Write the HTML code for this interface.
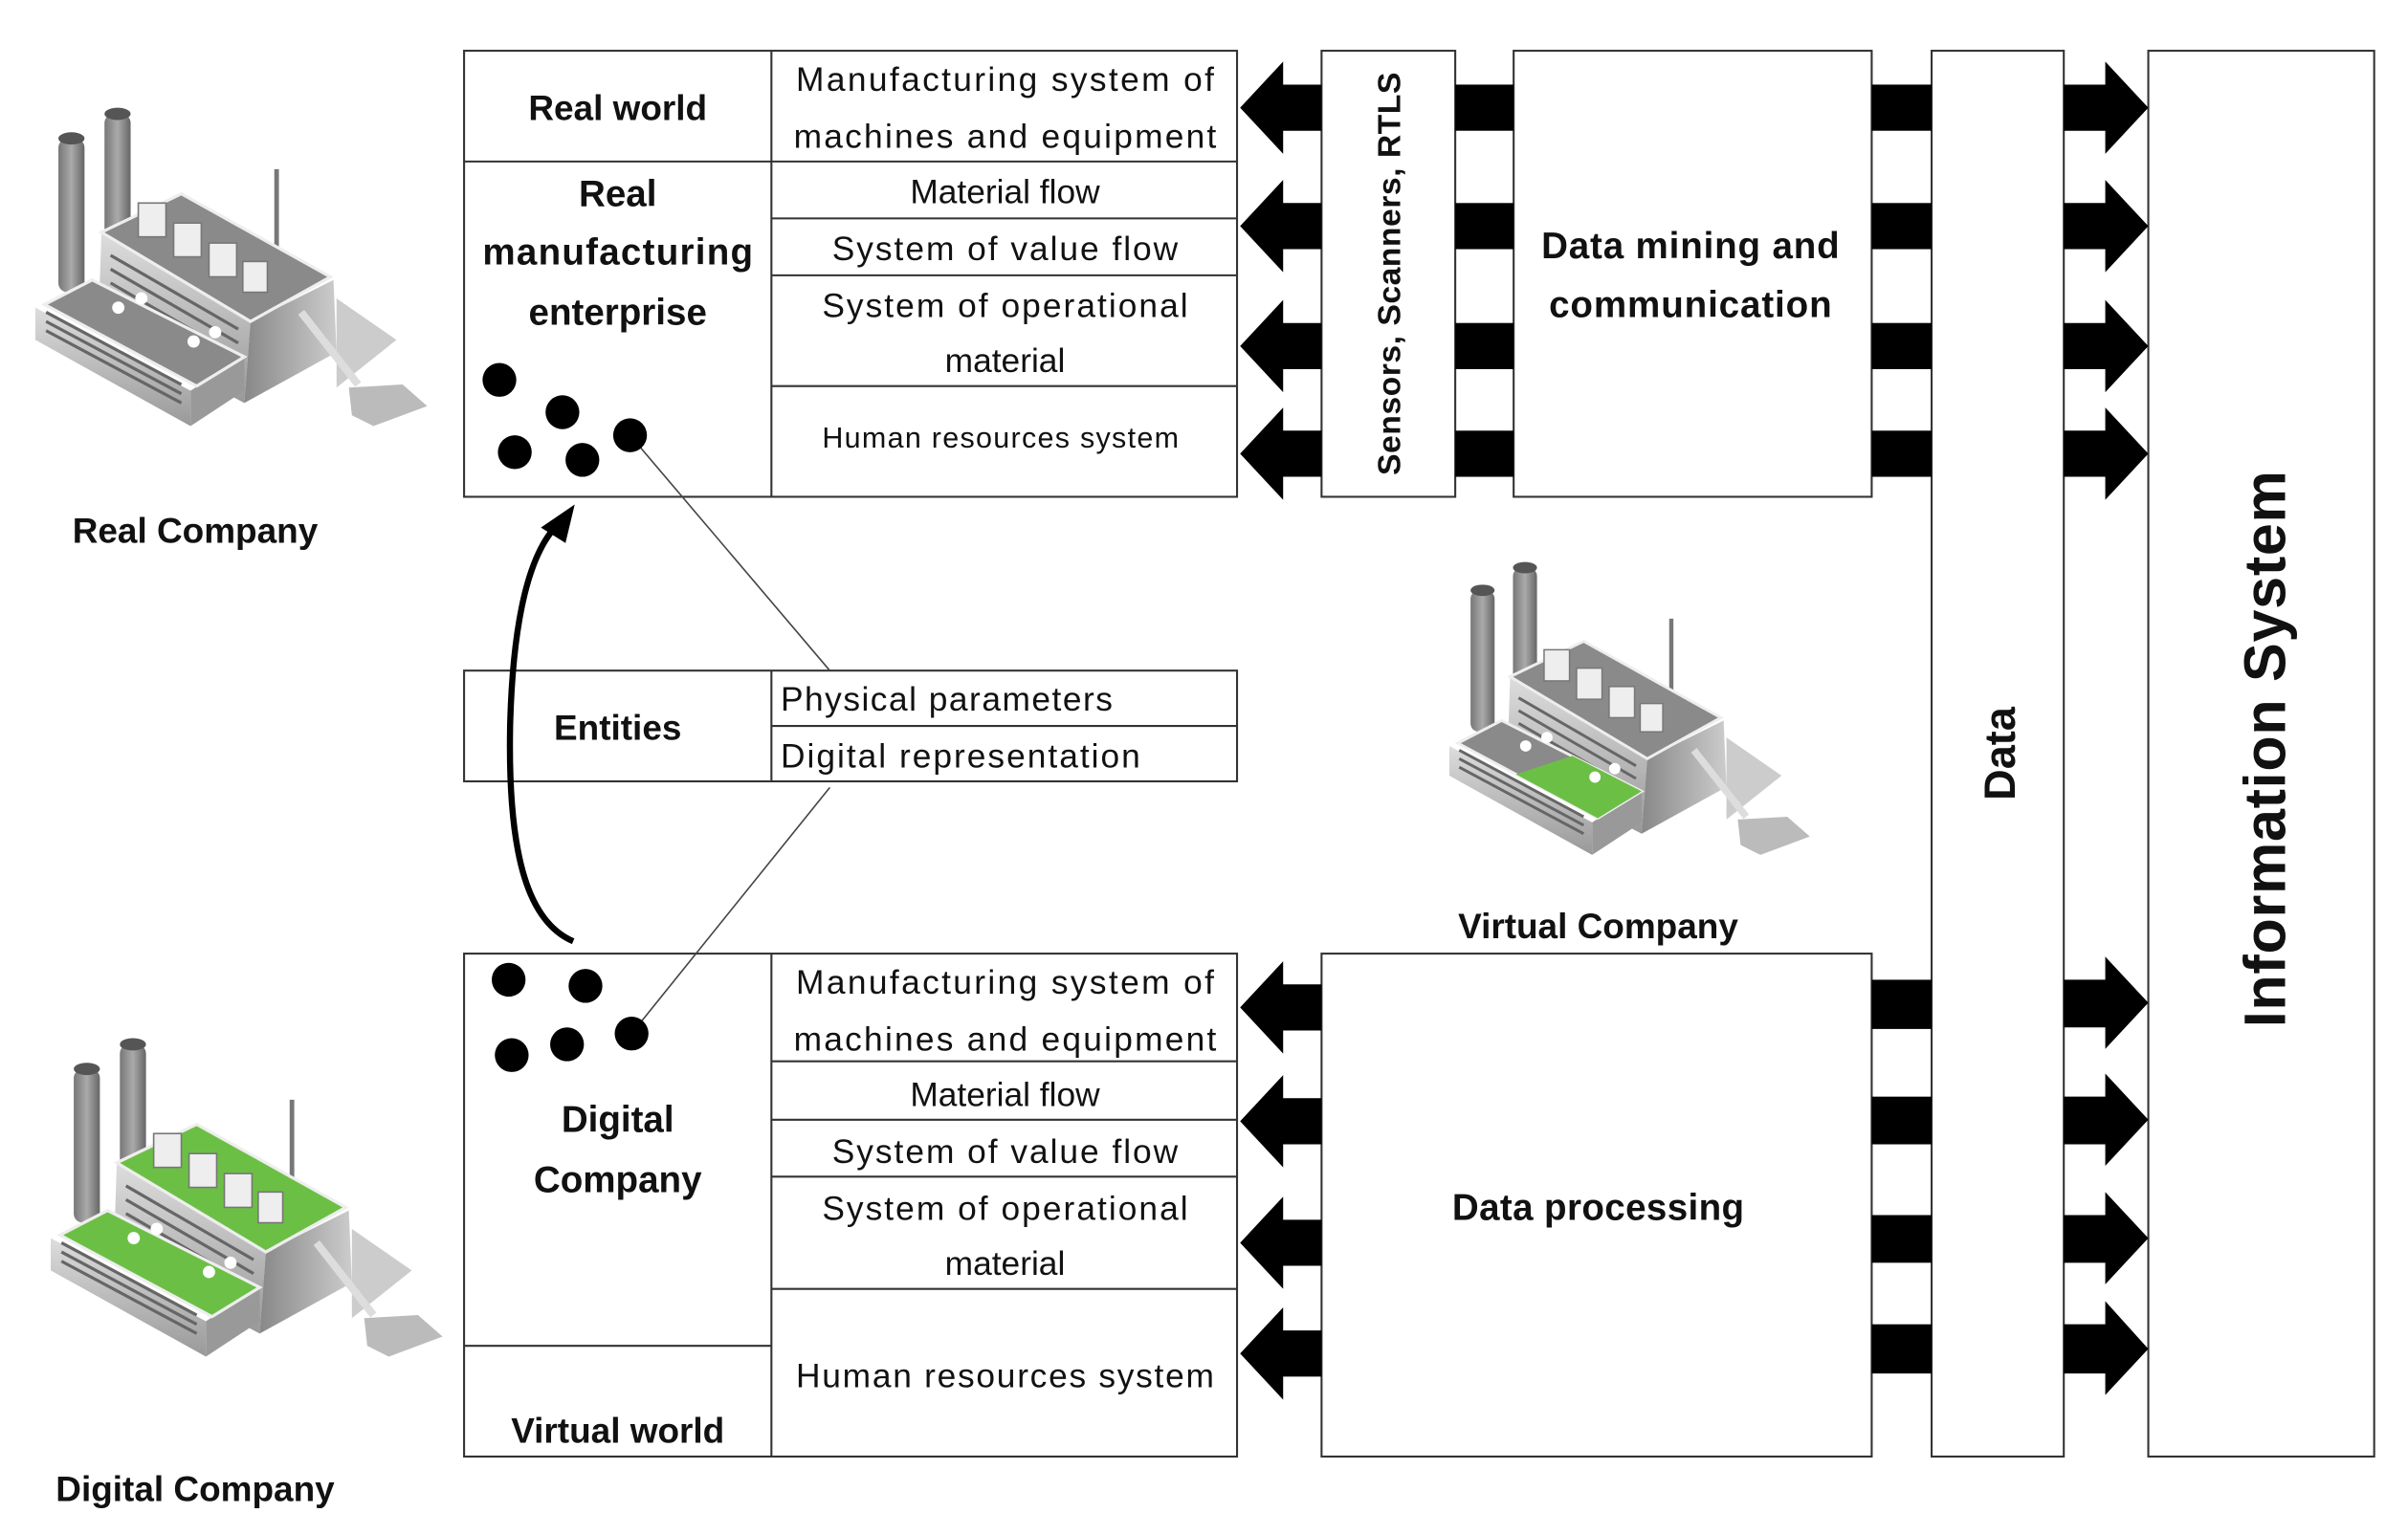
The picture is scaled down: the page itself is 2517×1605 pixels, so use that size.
<!DOCTYPE html>
<html><head><meta charset="utf-8"><style>
html,body{margin:0;padding:0;background:#fff;}
svg{display:block;}
text{font-family:"Liberation Sans",sans-serif;fill:#111;}
.b{font-weight:bold;}
</style></head><body>
<svg width="2517" height="1605" viewBox="0 0 1567 998" preserveAspectRatio="none" xmlns="http://www.w3.org/2000/svg">
<defs>
<linearGradient id="ch" x1="0" x2="1"><stop offset="0" stop-color="#777"/><stop offset="0.5" stop-color="#aaa"/><stop offset="1" stop-color="#666"/></linearGradient>
<linearGradient id="wall" x1="0" x2="0" y1="0" y2="1"><stop offset="0" stop-color="#ddd"/><stop offset="1" stop-color="#999"/></linearGradient>
<linearGradient id="rw" x1="0" x2="1"><stop offset="0" stop-color="#888"/><stop offset="1" stop-color="#ccc"/></linearGradient>
<g id="facbase">
 <polygon points="219,194 258,221 219,252" fill="#ccc"/>
 <rect x="38" y="90" width="17" height="100" rx="6" fill="url(#ch)"/>
 <ellipse cx="46.5" cy="90" rx="8.5" ry="4" fill="#555"/>
 <rect x="68" y="74" width="17" height="100" rx="6" fill="url(#ch)"/>
 <ellipse cx="76.5" cy="74" rx="8.5" ry="4" fill="#555"/>
 <polygon points="66,151 163,209 159,262 64,212" fill="url(#wall)"/>
 <polygon points="163,209 217,182 219,229 159,262" fill="url(#rw)"/>
 <line x1="180" y1="110" x2="180" y2="182" stroke="#777" stroke-width="3"/>
 <polygon points="23,200 124,254 124,277 23,221" fill="url(#wall)"/>
 <polygon points="124,254 159,232 159,254 124,277" fill="#999"/>
 <line x1="196" y1="203" x2="233" y2="250" stroke="#ddd" stroke-width="5"/>
 <polygon points="227,252 262,250 278,264 243,277 229,270" fill="#bbb"/>
 <g stroke="#666" stroke-width="2">
  <line x1="30" y1="209" x2="118" y2="256"/><line x1="30" y1="215" x2="118" y2="262"/><line x1="30" y1="203" x2="118" y2="250"/>
  <line x1="72" y1="166" x2="155" y2="214"/><line x1="72" y1="175" x2="155" y2="223"/><line x1="72" y1="184" x2="155" y2="232"/>
 </g>
</g>
<g id="roofs">
 <g fill="#eee" stroke="#777" stroke-width="1">
  <rect x="90" y="132" width="18" height="22"/><rect x="113" y="145" width="18" height="22"/><rect x="136" y="158" width="18" height="22"/><rect x="158" y="170" width="16" height="20"/>
 </g>
 <g fill="#fff"><circle cx="77" cy="200" r="4"/><circle cx="92" cy="194" r="4"/><circle cx="126" cy="222" r="4"/><circle cx="140" cy="216" r="4"/></g>
</g>
</defs>

<g>
 <use href="#facbase"/>
 <polygon points="66,151 118,126 215,180 163,209" fill="#8a8a8a" stroke="#eee" stroke-width="2"/>
 <polygon points="29,198 60,182 159,232 128,251" fill="#8a8a8a" stroke="#eee" stroke-width="2"/>
 <use href="#roofs"/>
</g>
<g transform="translate(10,605)">
 <use href="#facbase"/>
 <polygon points="66,151 118,126 215,180 163,209" fill="#6cbf45" stroke="#eee" stroke-width="2"/>
 <polygon points="29,198 60,182 159,232 128,251" fill="#6cbf45" stroke="#eee" stroke-width="2"/>
 <use href="#roofs"/>
</g>
<g transform="translate(922,301) scale(0.92)">
 <use href="#facbase"/>
 <polygon points="66,151 118,126 215,180 163,209" fill="#8a8a8a" stroke="#eee" stroke-width="2"/>
 <polygon points="29,198 60,182 159,232 128,251" fill="#8a8a8a" stroke="#eee" stroke-width="2"/>
 <polygon points="70,220 128,251 159,232 110,207" fill="#6cbf45"/>
 <use href="#roofs"/>
</g>

<text x="127" y="353" font-size="23" class="b" text-anchor="middle">Real Company</text>
<text x="127" y="976" font-size="23" class="b" text-anchor="middle">Digital Company</text>
<text x="1040" y="610" font-size="23" class="b" text-anchor="middle">Virtual Company</text>

<g fill="none" stroke="#333" stroke-width="1.3">
 <rect x="302" y="33" width="503" height="290"/>
 <line x1="502" y1="33" x2="502" y2="323"/>
 <line x1="302" y1="105" x2="805" y2="105"/>
 <line x1="502" y1="142" x2="805" y2="142"/>
 <line x1="502" y1="179" x2="805" y2="179"/>
 <line x1="502" y1="251" x2="805" y2="251"/>
 <rect x="302" y="436" width="503" height="72"/>
 <line x1="502" y1="436" x2="502" y2="508"/>
 <line x1="502" y1="472" x2="805" y2="472"/>
 <rect x="302" y="620" width="503" height="327"/>
 <line x1="502" y1="620" x2="502" y2="947"/>
 <line x1="302" y1="875" x2="502" y2="875"/>
 <line x1="502" y1="690" x2="805" y2="690"/>
 <line x1="502" y1="728" x2="805" y2="728"/>
 <line x1="502" y1="765" x2="805" y2="765"/>
 <line x1="502" y1="838" x2="805" y2="838"/>
 <rect x="860" y="33" width="87" height="290"/>
 <rect x="985" y="33" width="233" height="290"/>
 <rect x="1257" y="33" width="86" height="914"/>
 <rect x="1398" y="33" width="147" height="914"/>
 <rect x="860" y="620" width="358" height="327"/>
</g>

<line x1="410" y1="283" x2="540" y2="436" stroke="#444" stroke-width="1"/>
<line x1="411" y1="672" x2="540" y2="512" stroke="#444" stroke-width="1"/>
<g fill="#000">
 <circle cx="325" cy="247" r="11"/><circle cx="366" cy="268" r="11"/><circle cx="335" cy="294" r="11"/><circle cx="379" cy="299" r="11"/><circle cx="410" cy="283" r="11"/>
 <circle cx="331" cy="637" r="11"/><circle cx="381" cy="641" r="11"/><circle cx="333" cy="686" r="11"/><circle cx="369" cy="679" r="11"/><circle cx="411" cy="672" r="11"/>
</g>
<path d="M373,612 C345,600 330,560 332,470 C334,400 345,360 362,342" fill="none" stroke="#000" stroke-width="4"/>
<polygon points="374,328 352,343 368,353" fill="#000"/>

<g fill="#000">
 <polygon points="807,70 835,40 835,55 860,55 860,85 835,85 835,100"/>
 <polygon points="807,147 835,117 835,132 860,132 860,162 835,162 835,177"/>
 <polygon points="807,225 835,195 835,210 860,210 860,240 835,240 835,255"/>
 <polygon points="807,295 835,265 835,280 860,280 860,310 835,310 835,325"/>
 <rect x="947" y="55" width="38" height="30"/><rect x="947" y="132" width="38" height="30"/><rect x="947" y="210" width="38" height="30"/><rect x="947" y="280" width="38" height="30"/>
 <rect x="1218" y="55" width="39" height="30"/><rect x="1218" y="132" width="39" height="30"/><rect x="1218" y="210" width="39" height="30"/><rect x="1218" y="280" width="39" height="30"/>
 <polygon points="1343,55 1370,55 1370,40 1398,70 1370,100 1370,85 1343,85"/>
 <polygon points="1343,132 1370,132 1370,117 1398,147 1370,177 1370,162 1343,162"/>
 <polygon points="1343,210 1370,210 1370,195 1398,225 1370,255 1370,240 1343,240"/>
 <polygon points="1343,280 1370,280 1370,265 1398,295 1370,325 1370,310 1343,310"/>
 <polygon points="807,655 835,625 835,640 860,640 860,670 835,670 835,685"/>
 <polygon points="807,729 835,699 835,714 860,714 860,744 835,744 835,759"/>
 <polygon points="807,808 835,778 835,793 860,793 860,823 835,823 835,838"/>
 <polygon points="807,880 835,850 835,865 860,865 860,895 835,895 835,910"/>
 <rect x="1218" y="637" width="39" height="32"/><rect x="1218" y="713" width="39" height="31"/><rect x="1218" y="790" width="39" height="31"/><rect x="1218" y="861" width="39" height="32"/>
 <polygon points="1343,637 1370,637 1370,622 1398,652 1370,682 1370,668 1343,668"/>
 <polygon points="1343,713 1370,713 1370,698 1398,728 1370,758 1370,744 1343,744"/>
 <polygon points="1343,790 1370,790 1370,775 1398,805 1370,835 1370,821 1343,821"/>
 <polygon points="1343,861 1370,861 1370,846 1398,877 1370,907 1370,893 1343,893"/>
</g>

<text x="402" y="78" font-size="23" class="b" text-anchor="middle">Real world</text>
<text x="402" y="134" font-size="24" class="b" text-anchor="middle">Real</text>
<text x="402" y="172" font-size="24" class="b" text-anchor="middle" textLength="176">manufacturing</text>
<text x="402" y="211" font-size="24" class="b" text-anchor="middle">enterprise</text>
<g font-size="22" text-anchor="middle">
 <text x="654" y="59" textLength="272">Manufacturing system of</text>
 <text x="654" y="96" textLength="275">machines and equipment</text>
 <text x="654" y="132">Material flow</text>
 <text x="654" y="169" textLength="225">System of value flow</text>
 <text x="654" y="206" textLength="238">System of operational</text>
 <text x="654" y="242">material</text>
 <text x="651" y="291" font-size="19" textLength="232">Human resources system</text>
</g>
<text x="402" y="481" font-size="23" class="b" text-anchor="middle">Entities</text>
<text x="508" y="462" font-size="22" textLength="216">Physical parameters</text>
<text x="508" y="499" font-size="22" textLength="234">Digital representation</text>

<text x="402" y="736" font-size="24" class="b" text-anchor="middle">Digital</text>
<text x="402" y="775" font-size="24" class="b" text-anchor="middle">Company</text>
<text x="402" y="938" font-size="23" class="b" text-anchor="middle">Virtual world</text>
<g font-size="22" text-anchor="middle">
 <text x="654" y="646" textLength="272">Manufacturing system of</text>
 <text x="654" y="683" textLength="275">machines and equipment</text>
 <text x="654" y="719">Material flow</text>
 <text x="654" y="756" textLength="225">System of value flow</text>
 <text x="654" y="793" textLength="238">System of operational</text>
 <text x="654" y="829">material</text>
 <text x="654" y="902" textLength="272">Human resources system</text>
</g>

<text x="1100" y="168" font-size="24" class="b" text-anchor="middle" textLength="194">Data mining and</text>
<text x="1100" y="206" font-size="24" class="b" text-anchor="middle" textLength="184">communication</text>
<text x="1040" y="793" font-size="24" class="b" text-anchor="middle" textLength="190">Data processing</text>

<text transform="translate(911,178) rotate(-90)" font-size="21" class="b" text-anchor="middle" textLength="262">Sensors, Scanners, RTLS</text>
<text transform="translate(1311,490) rotate(-90)" font-size="28" class="b" text-anchor="middle">Data</text>
<text transform="translate(1487,487) rotate(-90)" font-size="38" class="b" text-anchor="middle" textLength="362">Information System</text>
</svg>
</body></html>
